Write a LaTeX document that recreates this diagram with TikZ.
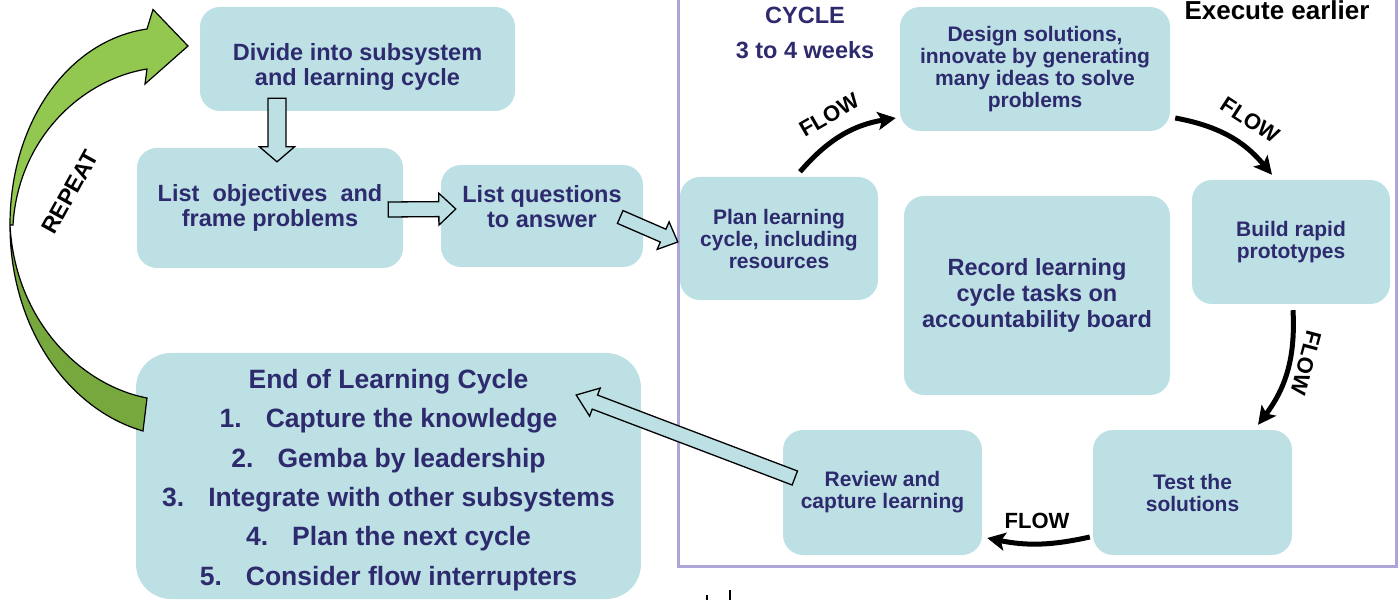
\documentclass[tikz,border=0pt]{standalone}
\usepackage{fontspec}
\setmainfont{Liberation Sans}
\usetikzlibrary{calc,arrows.meta}

\definecolor{boxfill}{RGB}{189,224,228}
\definecolor{navy}{RGB}{45,42,110}
\definecolor{framecol}{RGB}{172,166,214}
\definecolor{leafgreen}{RGB}{146,200,80}
\definecolor{darkgreen}{RGB}{118,168,62}

% outlined block arrow: from, to, shaft half width, head half width, head length
\newcommand{\hollowarrow}[5]{%
  \path ($(#2)!#5!(#1)$) coordinate (hb);
  \draw[hollow] ($(#1)!#3!90:(#2)$) -- ($(hb)!#3!90:(#2)$) -- ($(hb)!#4!90:(#2)$)
    -- (#2) -- ($(hb)!#4!-90:(#2)$) -- ($(hb)!#3!-90:(#2)$) -- ($(#1)!#3!-90:(#2)$) -- cycle;}
% text block moved up or down inside its box
\newcommand{\moved}[2]{\raisebox{#1}[\height][\depth]{\begin{tabular}{@{}c@{}}#2\end{tabular}}}

\tikzset{
  box/.style={fill=boxfill, rounded corners=20pt, text=navy, align=center,
    font=\bfseries\fontsize{21}{22}\selectfont},
  bigbox/.style={box, font=\bfseries\fontsize{23.5}{25.5}\selectfont},
  hollow/.style={fill=boxfill, draw=black, line width=1.3pt, line join=miter},
  flow/.style={line width=5pt, -{Stealth[length=18pt,width=18pt,inset=4pt]}},
  flowlabel/.style={font=\bfseries\fontsize{22}{22}\selectfont},
  heading/.style={text=navy, font=\bfseries\fontsize{23.5}{25}\selectfont},
}

\begin{document}
\begin{tikzpicture}[x=100pt,y=100pt]
  \useasboundingbox (0,0) rectangle (13.99,6);

  % frame of the learning cycle
  \draw[framecol, line width=3pt] (6.78,6.2) -- (6.78,0.34) -- (13.96,0.34) -- (13.96,6.2);
  \node[heading] (cycle) at (8.05,5.85) {CYCLE};
  \node[heading] (weeks) at (8.05,5.50) {3 to 4 weeks};
  \node[anchor=base, font=\bfseries\fontsize{26}{27}\selectfont] (earlier) at (12.77,5.80) {Execute earlier};

  % boxes
  \node[bigbox, minimum width=315pt, minimum height=104pt] (divide) at (3.575,5.41) {\moved{-9pt}{Divide into subsystem\\and learning cycle}};
  \node[bigbox, minimum width=266pt, minimum height=120pt] (objectives) at (2.70,3.92) {List\ \ objectives\ \ and\\frame problems};
  \node[bigbox, minimum width=202pt, minimum height=102pt] (questions) at (5.42,3.84) {\moved{6pt}{List questions\\to answer}};
  \node[box, minimum width=198pt, minimum height=123pt] (plan) at (7.79,3.615) {Plan learning\\cycle, including\\resources};
  \node[box, minimum width=270pt, minimum height=124pt] (design) at (10.35,5.31) {Design solutions,\\innovate by generating\\many ideas to solve\\problems};
  \node[box, minimum width=198pt, minimum height=124pt] (build) at (12.91,3.58) {Build rapid\\prototypes};
  \node[bigbox, minimum width=266pt, minimum height=199pt, font=\bfseries\fontsize{23.5}{26}\selectfont] (record) at (10.37,3.045) {Record learning\\cycle tasks on\\accountability board};
  \node[box, minimum width=199pt, minimum height=125pt] (test) at (11.925,1.075) {Test the\\solutions};
  \node[box, minimum width=199pt, minimum height=125pt] (review) at (8.825,1.075) {Review and\\capture learning};
  \node[box, rounded corners=35pt, minimum width=505pt, minimum height=246pt,
    font=\bfseries\fontsize{26.5}{39.4}\selectfont] (endcycle) at (3.885,1.24)
    {\moved{-3pt}{End of Learning Cycle\\
     1.\hspace{24pt}Capture the knowledge\\
     2.\hspace{24pt}Gemba by leadership\\
     3.\hspace{24pt}Integrate with other subsystems\\
     4.\hspace{24pt}Plan the next cycle\\
     5.\hspace{24pt}Consider flow interrupters}};

  % block arrows
  \coordinate (d1) at ([xshift=-80.5pt,yshift=13pt]divide.south);
  \coordinate (d2) at ([xshift=7pt,yshift=-14pt]objectives.north);
  \coordinate (o1) at ([xshift=-15pt,yshift=-1.5pt]objectives.east);
  \coordinate (o2) at ([xshift=15pt,yshift=7pt]questions.west);
  \coordinate (q1) at ([xshift=-23pt,yshift=-1pt]questions.east);
  \coordinate (q2) at ([xshift=-2pt,yshift=-3.5pt]plan.west);
  \coordinate (r1) at ([xshift=12pt,yshift=14.5pt]review.west);
  \coordinate (r2) at ([xshift=-65pt,yshift=81pt]endcycle.east);
  \hollowarrow{d1}{d2}{9pt}{17.5pt}{15pt}
  \hollowarrow{o1}{o2}{7.5pt}{16pt}{17pt}
  \hollowarrow{q1}{q2}{7pt}{15pt}{16pt}
  \hollowarrow{r1}{r2}{7.5pt}{15pt}{20pt}

  % flow around the cycle
  \draw[flow] ([xshift=21pt,yshift=5pt]plan.north) to[bend left=20] ([xshift=-4pt,yshift=-49pt]design.west);
  \draw[flow] ([xshift=5pt,yshift=-49pt]design.east) to[bend left=20] ([xshift=-19pt,yshift=5pt]build.north);
  \draw[flow] ([xshift=2pt,yshift=-6pt]build.south) to[bend left=20] ([xshift=65.5pt,yshift=5pt]test.north);
  \draw[flow] ([xshift=-3pt,yshift=-44.5pt]test.west) to[bend left=12] ([xshift=5pt,yshift=-45.5pt]review.east);
  \node[flowlabel, rotate=30] (flow1) at (8.29,4.85) {FLOW};
  \node[flowlabel, rotate=-33] (flow2) at (12.50,4.80) {FLOW};
  \node[flowlabel, rotate=-105] (flow3) at (13.06,2.37) {FLOW};
  \node[flowlabel] (flow4) at (10.37,0.79) {FLOW};

  % repeat arrow
  \draw[fill=darkgreen, line width=1.2pt] (1.43,1.69) .. controls (0.70,1.90) and (0.10,2.70) .. (0.10,3.75)
    .. controls (0.15,2.80) and (0.80,2.15) .. (1.47,2.02) -- cycle;
  \draw[fill=leafgreen, line width=1.2pt, line join=miter] (0.10,3.75) .. controls (0.10,4.80) and (0.70,5.60) .. (1.47,5.71)
    -- (1.53,5.905) -- (1.88,5.54) -- (1.45,5.16) -- (1.47,5.31)
    .. controls (0.80,5.20) and (0.18,4.60) .. (0.13,3.75) -- cycle;
  \node[flowlabel, font=\bfseries\fontsize{23}{23}\selectfont, rotate=61] (repeat) at (0.70,4.08) {REPEAT};

  % ticks below the frame
  \draw[line width=1.5pt] (7.07,0.05) -- (7.07,0);
  \draw[line width=1.5pt] (7.30,0.10) -- (7.30,0);
\end{tikzpicture}
\end{document}
